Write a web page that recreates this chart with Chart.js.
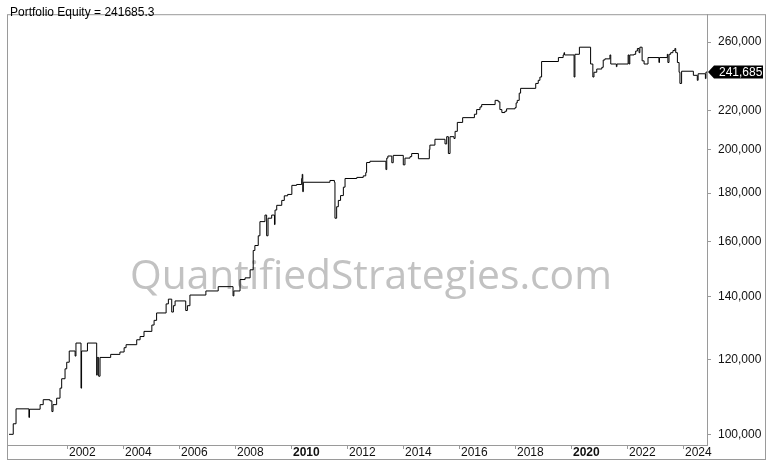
<!DOCTYPE html>
<html>
<head>
<meta charset="utf-8">
<script src="https://cdn.jsdelivr.net/npm/chart.js@4.4.1/dist/chart.umd.min.js"></script>
<style>
  html, body { margin: 0; padding: 0; background: #fff; }
  canvas { display: block; }
</style>
</head>
<body>
<canvas id="c" width="768" height="465"></canvas>
<script>
// ---- data ----
const titleText = "Portfolio Equity = 241685.3";
const watermarkText = "QuantifiedStrategies.com";

const years = [
  1999.93, 2000.08, 2000.18, 2000.64, 2000.66, 2001.04, 2001.15, 2001.39, 2001.46, 2001.50,
  2001.63, 2001.75, 2001.81, 2001.93, 2001.99, 2002.08, 2002.29, 2002.32, 2002.50, 2002.52,
  2002.73, 2003.06, 2003.08, 2003.13, 2003.18, 2003.56, 2003.89, 2004.04, 2004.11, 2004.49,
  2004.61, 2004.75, 2005.03, 2005.11, 2005.20, 2005.54, 2005.62, 2005.74, 2005.80, 2005.86,
  2006.24, 2006.30, 2006.39, 2006.96, 2007.40, 2007.93, 2007.96, 2008.18, 2008.36, 2008.54,
  2008.65, 2008.71, 2008.83, 2008.89, 2009.07, 2009.13, 2009.18, 2009.31, 2009.41, 2009.43,
  2009.49, 2009.67, 2009.76, 2009.88, 2010.03, 2010.20, 2010.38, 2010.40, 2010.42, 2010.44,
  2011.39, 2011.55, 2011.57, 2011.63, 2011.69, 2011.77, 2011.87, 2011.93, 2012.35, 2012.58,
  2012.67, 2012.70, 2012.82, 2013.39, 2013.42, 2013.46, 2013.60, 2013.65, 2014.01, 2014.07,
  2014.25, 2014.31, 2014.55, 2014.94, 2014.96, 2015.14, 2015.50, 2015.56, 2015.62, 2015.68,
  2015.82, 2015.86, 2015.94, 2016.13, 2016.55, 2016.63, 2016.75, 2016.81, 2017.29, 2017.40,
  2017.46, 2017.53, 2017.64, 2017.70, 2018.00, 2018.04, 2018.08, 2018.15, 2018.20, 2018.74,
  2018.83, 2018.89, 2018.95, 2019.55, 2019.72, 2019.75, 2019.77, 2020.11, 2020.14, 2020.30,
  2020.70, 2020.78, 2020.82, 2020.92, 2021.10, 2021.15, 2021.21, 2021.39, 2021.42, 2021.62,
  2021.64, 2022.04, 2022.07, 2022.10, 2022.25, 2022.31, 2022.37, 2022.43, 2022.46, 2022.54,
  2022.61, 2022.75, 2023.14, 2023.16, 2023.44, 2023.46, 2023.50, 2023.56, 2023.64, 2023.71,
  2023.74, 2023.80, 2023.86, 2023.89, 2023.95, 2024.37, 2024.51, 2024.54, 2024.80, 2024.82,
  2024.857
];

const equity = [
  100000, 102600, 106400, 104200, 106300, 107500, 108800, 108500, 105700, 107500,
  109200, 111900, 114500, 117300, 119200, 122500, 121000, 124900, 111900, 122500,
  124900, 115500, 120600, 115200, 120600, 121500, 122200, 123500, 124400, 125900,
  126900, 128500, 130500, 132000, 134400, 137400, 139000, 134700, 136800, 138400,
  135200, 136800, 140400, 141800, 143300, 140100, 141800, 145800, 146400, 149300,
  156500, 158400, 162200, 167900, 170600, 162200, 169300, 170600, 166700, 172700,
  174700, 176800, 178800, 179400, 183400, 183800, 186500, 188400, 180600, 184800,
  185600, 184800, 169300, 174100, 176800, 178900, 182600, 186500, 187000, 187700,
  189200, 193900, 194500, 190600, 196000, 197000, 193800, 197300, 192800, 196000,
  196700, 198200, 195700, 200100, 202300, 205200, 202900, 206500, 198200, 206500,
  205600, 209200, 213800, 216300, 218100, 220600, 222000, 223300, 225600, 224800,
  220600, 219000, 219700, 221000, 221600, 224200, 225600, 229600, 232300, 235100,
  236900, 238800, 248000, 250400, 252000, 253400, 252000, 238800, 252400, 256800,
  246500, 238800, 241600, 243500, 244500, 248900, 249600, 252000, 246500, 244900,
  246500, 252000, 246500, 252000, 252400, 254400, 256000, 253400, 256800, 248400,
  246500, 250400, 247400, 250400, 252400, 247400, 252400, 253400, 254700, 256000,
  253400, 247400, 241600, 235100, 242200, 239800, 236900, 240700, 237900, 241685,
  241685
];

const xTicks = [2002, 2004, 2006, 2008, 2010, 2012, 2014, 2016, 2018, 2020, 2022, 2024];
const yTicks = [100000, 120000, 140000, 160000, 180000, 200000, 220000, 260000];

// ---- drawing ----
const FONT = "'Liberation Sans', Arial, sans-serif";
const frameColor = "#9a9a9a";
const fmt = v => Math.round(v).toLocaleString('en-US');

const decorPlugin = {
  id: 'decor',
  beforeDatasetsDraw(chart) {
    const ctx = chart.ctx;
    const a = chart.chartArea;
    ctx.save();
    // watermark
    ctx.fillStyle = "#c2c2c2";
    ctx.textBaseline = "alphabetic";
    ctx.textAlign = "left";
    ctx.font = "48px 'Open Sans', 'Noto Sans', sans-serif";
    const w = ctx.measureText(watermarkText).width;
    const size = 48 * 482 / w;
    ctx.font = size.toFixed(2) + "px 'Open Sans', 'Noto Sans', sans-serif";
    ctx.fillText(watermarkText, 130, 289);
    ctx.restore();
  },
  afterDraw(chart) {
    const ctx = chart.ctx;
    const a = chart.chartArea;
    ctx.save();
    // outer frame
    ctx.strokeStyle = frameColor;
    ctx.lineWidth = 1;
    ctx.strokeRect(a.left + 0.5, a.top + 0.5, 765 - a.left, 459 - a.top);
    // title
    ctx.fillStyle = "#000";
    ctx.font = "12px " + FONT;
    ctx.textBaseline = "alphabetic";
    ctx.textAlign = "left";
    ctx.fillText(titleText, 10, 16);
    // last value badge
    const last = equity[equity.length - 1];
    const y = chart.scales.y.getPixelForValue(last);
    const xr = a.right + 1;
    ctx.fillStyle = "#000";
    ctx.beginPath();
    ctx.moveTo(xr, y);
    ctx.lineTo(xr + 6, y - 6.5);
    ctx.lineTo(763, y - 6.5);
    ctx.lineTo(763, y + 6.5);
    ctx.lineTo(xr + 6, y + 6.5);
    ctx.closePath();
    ctx.fill();
    ctx.fillStyle = "#fff";
    ctx.textBaseline = "middle";
    ctx.fillText(fmt(last), 719, y + 0.5);
    ctx.restore();
  }
};

new Chart(document.getElementById('c'), {
  type: 'line',
  data: {
    datasets: [{
      data: years.map((x, i) => ({ x: x, y: equity[i] })),
      borderColor: '#000',
      borderWidth: 1,
      pointRadius: 0,
      stepped: true,
      fill: false
    }]
  },
  options: {
    responsive: false,
    animation: false,
    devicePixelRatio: 1,
    layout: { padding: { left: 7, top: 2, right: 3, bottom: 6 } },
    plugins: { legend: { display: false }, tooltip: { enabled: false }, title: { display: false } },
    scales: {
      x: {
        type: 'linear',
        min: 1999.857,
        max: 2024.857,
        afterBuildTicks(scale) { scale.ticks = xTicks.map(v => ({ value: v })); },
        afterFit(scale) { scale.height = 14; },
        grid: { drawOnChartArea: false, tickLength: 4, color: frameColor },
        border: { color: frameColor },
        ticks: {
          autoSkip: false,
          maxRotation: 0,
          align: 'start',
          labelOffset: 2,
          padding: -4,
          color: '#111',
          font: (c) => ({ family: FONT, size: 12, weight: (c.tick && c.tick.value % 10 === 0) ? 'bold' : 'normal' }),
          callback: v => String(v)
        }
      },
      y: {
        type: 'logarithmic',
        position: 'right',
        min: 97430,
        max: 278300,
        afterBuildTicks(scale) { scale.ticks = yTicks.map(v => ({ value: v })); },
        afterFit(scale) { scale.width = 58; },
        grid: { drawOnChartArea: false, tickLength: 4, color: frameColor },
        border: { color: frameColor },
        ticks: {
          padding: 7,
          color: '#111',
          font: { family: FONT, size: 12 },
          callback: v => fmt(v)
        }
      }
    }
  },
  plugins: [decorPlugin]
});
</script>
</body>
</html>
